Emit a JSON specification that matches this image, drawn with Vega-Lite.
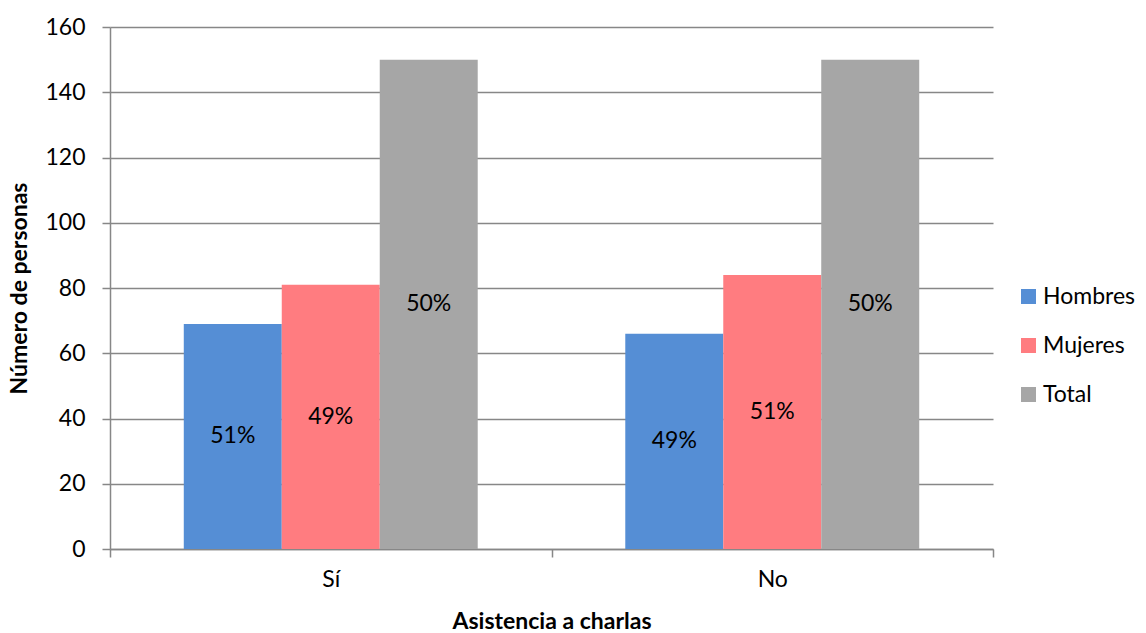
{
  "$schema": "https://vega.github.io/schema/vega-lite/v6.json",
  "width": 883,
  "height": 522,
  "autosize": {"type": "none"},
  "padding": {"left": 110, "top": 27, "right": 153, "bottom": 84},
  "background": "white",
  "config": {
    "font": "Lato",
    "view": {"stroke": null},
    "axis": {
      "labelFont": "Lato",
      "titleFont": "Lato",
      "labelFontSize": 23,
      "titleFontSize": 23,
      "labelColor": "#000000",
      "titleColor": "#000000",
      "titleFontWeight": "bold",
      "domainColor": "#878787",
      "domainWidth": 1.5,
      "tickColor": "#878787",
      "tickWidth": 1.5,
      "tickSize": 8,
      "gridColor": "#878787",
      "gridWidth": 1.5
    },
    "legend": {
      "labelFont": "Lato",
      "labelFontSize": 23,
      "labelColor": "#000000"
    }
  },
  "data": {
    "values": [
      {"asistencia": "Sí", "grupo": "Hombres", "personas": 69, "pct": "51%"},
      {"asistencia": "Sí", "grupo": "Mujeres", "personas": 81, "pct": "49%"},
      {"asistencia": "Sí", "grupo": "Total", "personas": 150, "pct": "50%"},
      {"asistencia": "No", "grupo": "Hombres", "personas": 66, "pct": "49%"},
      {"asistencia": "No", "grupo": "Mujeres", "personas": 84, "pct": "51%"},
      {"asistencia": "No", "grupo": "Total", "personas": 150, "pct": "50%"}
    ]
  },
  "encoding": {
    "x": {
      "field": "asistencia",
      "type": "nominal",
      "sort": ["Sí", "No"],
      "scale": {"paddingInner": 0, "paddingOuter": 0},
      "axis": {
        "title": "Asistencia a charlas",
        "labelAngle": 0,
        "tickBand": "extent",
        "labelPadding": 11,
        "titleY": 79,
        "titleBaseline": "alphabetic",
        "grid": false
      }
    },
    "xOffset": {
      "field": "grupo",
      "type": "nominal",
      "sort": ["Hombres", "Mujeres", "Total"],
      "scale": {"paddingInner": 0, "paddingOuter": 0.753}
    }
  },
  "layer": [
    {
      "mark": {"type": "bar"},
      "encoding": {
        "y": {
          "field": "personas",
          "type": "quantitative",
          "scale": {"domain": [0, 160], "nice": false},
          "axis": {
            "title": "Número de personas",
            "values": [0, 20, 40, 60, 80, 100, 120, 140, 160],
            "grid": true,
            "labelPadding": 17,
            "titleX": -91,
            "titleY": 261,
            "titleBaseline": "middle",
            "titleAngle": -90
          }
        },
        "color": {
          "field": "grupo",
          "type": "nominal",
          "sort": ["Hombres", "Mujeres", "Total"],
          "scale": {"domain": ["Hombres", "Mujeres", "Total"], "range": ["#558ED5", "#FF7C80", "#A6A6A6"]},
          "legend": {
            "title": null,
            "orient": "none",
            "legendX": 907,
            "legendY": 258,
            "symbolType": "square",
            "symbolSize": 225,
            "symbolStrokeWidth": 0,
            "labelOffset": 3,
            "rowPadding": 25,
            "padding": 0
          }
        }
      }
    },
    {
      "mark": {"type": "text", "fontSize": 23, "color": "#000000", "baseline": "middle", "align": "center"},
      "encoding": {
        "y": {
          "field": "personas",
          "type": "quantitative",
          "stack": "zero",
          "bandPosition": 0.5
        },
        "text": {"field": "pct", "type": "nominal"}
      }
    }
  ]
}
